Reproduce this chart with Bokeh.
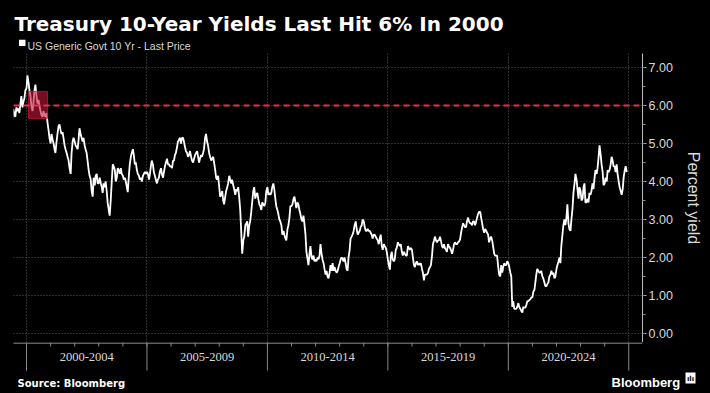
import numpy as np
import pandas as pd
from bokeh.plotting import figure
from bokeh.layouts import column, row
from bokeh.models import (Range1d, FixedTicker, PrintfTickFormatter, Span, BoxAnnotation,
                          Label, ColumnDataSource, GlobalInlineStyleSheet)
from bokeh.embed import file_html
from bokeh.resources import INLINE

# ---------------- data (semi-monthly readings, 1st and 15th of each month) ----------------
series_start = "1999-06-01"
title_text = "Treasury 10-Year Yields Last Hit 6% In 2000"
series_name = "US Generic Govt 10 Yr - Last Price"
source_text = "Source: Bloomberg"
brand_text = "Bloomberg"
y_axis_title = "Percent yield"
yields = [
    # 1999 (Jun-Dec)
    5.66, 5.90, 5.78, 5.70, 5.95, 5.85, 5.92, 5.80, 6.05, 6.25, 5.95, 6.10, 6.20, 6.40,
    # 2000
    6.45, 6.79, 6.60, 6.40, 6.25, 6.00, 5.85, 6.05, 6.40, 6.55, 6.25, 6.05,
    6.15, 6.00, 5.85, 5.75, 5.70, 5.85, 5.75, 5.70, 5.80, 5.55, 5.35, 5.15,
    # 2001
    5.00, 5.25, 5.10, 5.00, 4.85, 4.75, 5.05, 5.25, 5.45, 5.50, 5.35, 5.25,
    5.30, 5.15, 4.95, 4.85, 4.75, 4.65, 4.55, 4.35, 4.20, 4.75, 5.05, 5.15,
    # 2002
    5.05, 4.95, 4.90, 4.85, 5.10, 5.40, 5.25, 5.15, 5.05, 5.15, 4.95, 4.85,
    4.75, 4.55, 4.30, 4.15, 4.05, 3.75, 3.60, 4.10, 3.90, 4.15, 4.20, 3.95,
    # 2003
    3.95, 4.10, 3.95, 3.85, 3.70, 3.95, 3.85, 4.00, 3.75, 3.45, 3.25, 3.10,
    3.50, 3.95, 4.45, 4.40, 4.30, 4.00, 4.10, 4.35, 4.30, 4.20, 4.35, 4.20,
    # 2004
    4.15, 4.05, 4.10, 4.00, 3.85, 3.72, 4.15, 4.45, 4.65, 4.75, 4.85, 4.70,
    4.45, 4.50, 4.30, 4.20, 4.15, 4.05, 4.10, 4.00, 4.15, 4.20, 4.25, 4.20,
    # 2005
    4.25, 4.20, 4.05, 4.20, 4.40, 4.55, 4.45, 4.25, 4.15, 4.05, 3.95, 4.05,
    4.10, 4.25, 4.35, 4.20, 4.10, 4.25, 4.40, 4.50, 4.60, 4.45, 4.45, 4.40,
    # 2006
    4.40, 4.35, 4.55, 4.55, 4.70, 4.75, 4.90, 5.05, 5.10, 5.15, 5.00, 5.15,
    5.15, 5.05, 4.90, 4.80, 4.75, 4.65, 4.70, 4.80, 4.65, 4.55, 4.50, 4.60,
    # 2007
    4.70, 4.75, 4.80, 4.65, 4.50, 4.60, 4.70, 4.65, 4.75, 4.85, 5.15, 5.25,
    5.05, 4.95, 4.75, 4.65, 4.55, 4.60, 4.65, 4.50, 4.30, 4.10, 4.05, 4.15,
    # 2008
    3.85, 3.60, 3.65, 3.75, 3.50, 3.40, 3.60, 3.75, 3.85, 3.95, 4.15, 4.05,
    3.95, 4.05, 3.90, 3.80, 3.65, 3.80, 3.75, 3.85, 3.55, 3.25, 2.65, 2.10,
    # 2009
    2.45, 2.55, 2.85, 2.90, 2.95, 2.55, 2.85, 2.95, 3.20, 3.45, 3.75, 3.85,
    3.55, 3.65, 3.70, 3.55, 3.40, 3.35, 3.25, 3.45, 3.40, 3.35, 3.45, 3.75,
    # 2010
    3.85, 3.65, 3.70, 3.65, 3.70, 3.85, 3.95, 3.80, 3.55, 3.35, 3.25, 3.15,
    3.00, 2.95, 2.85, 2.60, 2.70, 2.60, 2.50, 2.45, 2.75, 2.85, 3.05, 3.35,
    # 2011
    3.35, 3.40, 3.55, 3.60, 3.45, 3.30, 3.45, 3.40, 3.25, 3.15, 3.00, 2.95,
    3.10, 2.90, 2.60, 2.15, 1.95, 1.80, 2.10, 2.30, 2.00, 1.95, 2.05, 1.90,
    # 2012
    1.95, 1.90, 2.00, 1.95, 2.05, 2.35, 2.10, 1.95, 1.85, 1.70, 1.55, 1.65,
    1.50, 1.45, 1.60, 1.80, 1.65, 1.85, 1.65, 1.75, 1.65, 1.60, 1.65, 1.75,
    # 2013
    1.85, 1.95, 2.00, 1.95, 1.90, 2.00, 1.85, 1.70, 1.65, 2.00, 2.20, 2.50,
    2.55, 2.60, 2.70, 2.85, 2.95, 2.75, 2.60, 2.65, 2.70, 2.80, 2.85, 3.00,
    # 2014
    2.95, 2.80, 2.70, 2.70, 2.75, 2.70, 2.70, 2.65, 2.60, 2.50, 2.60, 2.60,
    2.55, 2.50, 2.45, 2.35, 2.50, 2.60, 2.30, 2.20, 2.35, 2.30, 2.25, 2.15,
    # 2015
    1.95, 1.80, 1.68, 2.05, 2.15, 1.95, 1.90, 1.95, 2.20, 2.25, 2.40, 2.35,
    2.30, 2.35, 2.15, 2.05, 2.15, 2.10, 2.05, 2.05, 2.30, 2.25, 2.20, 2.25,
    # 2016
    2.20, 2.00, 1.80, 1.75, 1.85, 1.90, 1.80, 1.85, 1.80, 1.85, 1.70, 1.60,
    1.40, 1.55, 1.55, 1.55, 1.60, 1.70, 1.75, 1.80, 2.05, 2.35, 2.45, 2.55,
    # 2017
    2.45, 2.40, 2.45, 2.45, 2.55, 2.45, 2.30, 2.25, 2.35, 2.25, 2.20, 2.15,
    2.35, 2.30, 2.25, 2.20, 2.10, 2.20, 2.35, 2.40, 2.35, 2.35, 2.40, 2.42,
    # 2018
    2.48, 2.65, 2.80, 2.90, 2.85, 2.80, 2.80, 2.95, 3.05, 2.95, 2.90, 2.90,
    2.85, 2.95, 2.95, 2.85, 2.95, 3.05, 3.15, 3.20, 3.20, 3.05, 2.90, 2.75,
    # 2019
    2.65, 2.75, 2.70, 2.65, 2.60, 2.40, 2.50, 2.55, 2.45, 2.30, 2.10, 2.05,
    2.05, 2.05, 1.75, 1.55, 1.50, 1.80, 1.60, 1.75, 1.85, 1.80, 1.80, 1.90,
    # 2020
    1.85, 1.75, 1.60, 1.50, 0.70, 0.85, 0.65, 0.65, 0.65, 0.70, 0.80, 0.70,
    0.65, 0.60, 0.55, 0.70, 0.68, 0.68, 0.75, 0.85, 0.85, 0.88, 0.90, 0.95,
    # 2021
    0.95, 1.10, 1.15, 1.35, 1.55, 1.70, 1.65, 1.60, 1.60, 1.65, 1.50, 1.45,
    1.35, 1.25, 1.25, 1.30, 1.35, 1.50, 1.55, 1.65, 1.55, 1.60, 1.45, 1.50,
    # 2022
    1.70, 1.80, 1.90, 2.00, 1.85, 2.30, 2.60, 2.85, 3.00, 2.85, 3.05, 3.40,
    2.90, 2.75, 2.70, 3.00, 3.30, 3.70, 3.95, 4.20, 4.05, 3.80, 3.55, 3.85,
    # 2023
    3.75, 3.50, 3.55, 3.85, 3.95, 3.45, 3.45, 3.55, 3.45, 3.70, 3.65, 3.75,
    3.95, 3.80, 4.10, 4.30, 4.20, 4.35, 4.65, 4.95, 4.70, 4.45, 4.25, 3.90,
    # 2024 (Jan - early Dec)
    3.95, 4.10, 4.00, 4.30, 4.25, 4.30, 4.45, 4.65, 4.55, 4.40, 4.40, 4.25,
    4.45, 4.20, 4.00, 3.85, 3.75, 3.65, 3.80, 4.10, 4.30, 4.40, 4.25,
]

period_bounds = [2000, 2005, 2010, 2015, 2020, 2025]
period_labels = ["2000-2004", "2005-2009", "2010-2014", "2015-2019", "2020-2024"]
year_ticks = list(range(2001, 2025))
y_ticks = [0, 1, 2, 3, 4, 5, 6, 7]
y_minor = [0.5 * k for k in range(0, 15)]
threshold = 6.0
highlight = dict(start=2000.08, end=2000.87, low=5.66, high=6.37)

# ---------------- styling / layout constants ----------------
W = 710
HEAD_H, MAIN_H, FOOT_H = 53, 289, 51
FRAME_L, FRAME_R, FRAME_TOP = 13, 642, 0      # frame edges (page px / inside main figure)
BG = "#000000"
AX = "#bdbdbd"
TXT = "#d9d9d9"
TICK = "#8a8a8a"
GRID = "#5a5a5a"
RED = "#e2334f"

x_lo, x_hi = 1999.46, 2025.57
y_lo, y_hi = -0.237, 7.368

# ---------------- prepare ----------------
dates = pd.date_range(series_start, periods=len(yields), freq="SMS")
days_in_year = np.where(dates.is_leap_year, 366.0, 365.0)
dec_year = dates.year + (dates.dayofyear - 1) / days_in_year
src = ColumnDataSource(dict(x=np.asarray(dec_year), y=yields))


def bare(fig):
    fig.outline_line_color = None
    fig.xgrid.visible = False
    fig.ygrid.visible = False
    return fig


# ---------------- header ----------------
head = bare(figure(width=W, height=HEAD_H, output_backend="svg", toolbar_location=None,
                   title=None, x_range=Range1d(0, W), y_range=Range1d(HEAD_H, 0),
                   x_axis_location=None, y_axis_location=None,
                   background_fill_color=BG, border_fill_color=BG,
                   min_border=0))
head.add_layout(Label(x=14, y=23.3, text=title_text, text_font="DejaVu Sans",
                      text_font_style="bold", text_font_size="20px", text_color="white",
                      text_baseline="alphabetic"))
head.add_layout(BoxAnnotation(left=18.5, right=25, top=39.3, bottom=45.5,
                              fill_color="white", fill_alpha=1, line_color=None))
head.add_layout(Label(x=27, y=45.7, text=series_name, text_font="Liberation Sans",
                      text_font_size="10.5px", text_color=TXT, text_baseline="alphabetic"))

# ---------------- main chart ----------------
p = figure(width=W, height=MAIN_H, output_backend="svg", toolbar_location=None,
           title=None, x_range=Range1d(x_lo, x_hi), y_range=Range1d(y_lo, y_hi),
           y_axis_location="right", background_fill_color=BG, border_fill_color=BG,
           min_border_left=FRAME_L, min_border_right=W - FRAME_R,
           min_border_top=FRAME_TOP, min_border_bottom=0)
p.outline_line_color = None
p.xaxis.visible = False

p.xgrid.ticker = FixedTicker(ticks=period_bounds)
p.ygrid.ticker = FixedTicker(ticks=y_ticks)
for g in (p.xgrid, p.ygrid):
    g.grid_line_color = GRID
    g.grid_line_dash = "1 2"
    g.grid_line_width = 1

ya = p.yaxis[0]
ya.ticker = FixedTicker(ticks=y_ticks, minor_ticks=y_minor)
ya.formatter = PrintfTickFormatter(format="%.2f")
ya.axis_line_color = AX
ya.major_tick_line_color = AX
ya.minor_tick_line_color = TICK
ya.major_tick_out = 4
ya.major_tick_in = 0
ya.minor_tick_out = 3
ya.minor_tick_in = 0
ya.major_label_standoff = 2
ya.major_label_text_color = TXT
ya.major_label_text_font = "Liberation Sans"
ya.major_label_text_font_size = "12.5px"
ya.axis_label = y_axis_title
ya.axis_label_text_font = "Liberation Sans"
ya.axis_label_text_font_size = "16px"
ya.axis_label_text_font_style = "normal"
ya.axis_label_text_color = TXT
ya.axis_label_standoff = 9

p.line("x", "y", source=src, line_color="white", line_width=1.8)

p.add_layout(BoxAnnotation(left=highlight["start"], right=highlight["end"],
                           bottom=highlight["low"], top=highlight["high"],
                           fill_color="#c4163a", fill_alpha=0.6,
                           line_color="#c4163a", line_alpha=0.8, line_width=1))
p.add_layout(Span(location=threshold, dimension="width", line_color=RED,
                  line_dash="6 4", line_width=2))

# ---------------- footer: time axis, source, brand ----------------
ppy = (FRAME_R - FRAME_L) / (x_hi - x_lo)
fx0 = x_lo - FRAME_L / ppy
fx1 = x_hi + (W - FRAME_R) / ppy
foot = bare(figure(width=W, height=FOOT_H, output_backend="svg", toolbar_location=None,
                   title=None, x_range=Range1d(0, W), y_range=Range1d(FOOT_H, 0),
                   x_axis_location=None, y_axis_location=None,
                   background_fill_color=BG, border_fill_color=BG, min_border=0))
foot.extra_x_ranges = {"yr": Range1d(fx0, fx1)}

foot.segment(x0=[x_lo], x1=[x_hi], y0=[0.5], y1=[0.5], x_range_name="yr",
             line_color=AX, line_width=1)
foot.segment(x0=year_ticks, x1=year_ticks, y0=0, y1=4, x_range_name="yr",
             line_color=TICK, line_width=1)
foot.segment(x0=period_bounds, x1=period_bounds, y0=0, y1=28, x_range_name="yr",
             line_color=TICK, line_width=1)
mids = [b + 2.5 for b in period_bounds[:-1]]
foot.text(x=mids, y=[14.5] * len(mids), text=period_labels, x_range_name="yr",
          text_align="center", text_baseline="middle", text_color=TXT,
          text_font="Liberation Sans", text_font_size="12.5px")

foot.add_layout(Label(x=17, y=40.7, text=source_text, text_font="DejaVu Sans",
                      text_font_style="bold", text_font_size="10px", text_color="white",
                      text_baseline="alphabetic"))
foot.add_layout(Label(x=611, y=39.7, text=brand_text, text_font="Liberation Sans",
                      text_font_style="bold", text_font_size="13px", text_color="white",
                      text_baseline="alphabetic"))
foot.add_layout(BoxAnnotation(left=685, right=695, top=30, bottom=41,
                              fill_color="white", fill_alpha=1, line_color=None))
foot.add_layout(Label(x=690, y=36, text="\u0131l\u0131", text_font="DejaVu Sans",
                      text_font_style="bold", text_font_size="7px", text_color="black",
                      text_align="center", text_baseline="middle"))

# header and footer wrapped separately so their frames keep the full page width
page = column(row(head), p, row(foot), spacing=0)
page.stylesheets = [GlobalInlineStyleSheet(css="body{background:#000000;}")]

open("out.html", "w").write(file_html(page, INLINE))
